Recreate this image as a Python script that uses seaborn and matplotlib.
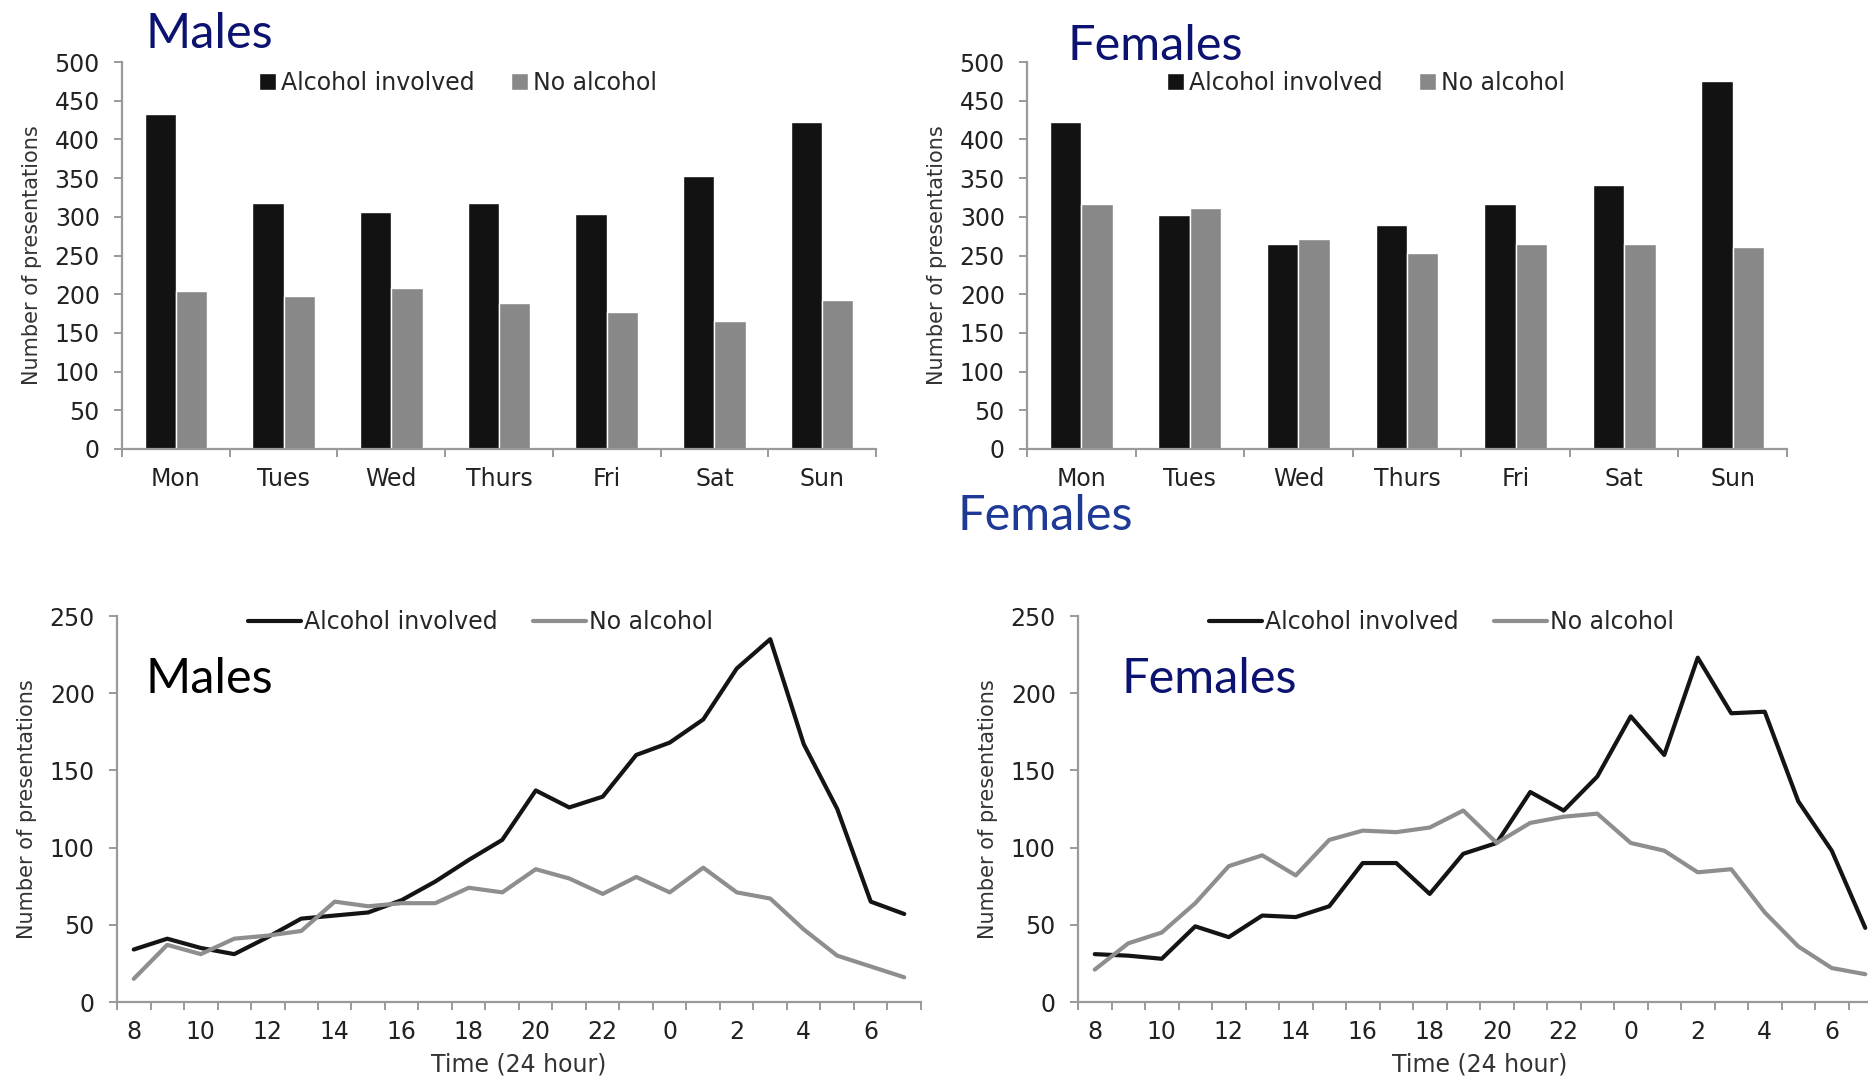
import numpy as np
import pandas as pd
import matplotlib
matplotlib.use("Agg")
import matplotlib.pyplot as plt
import seaborn as sns

# ---- data ----
days = ["Mon", "Tues", "Wed", "Thurs", "Fri", "Sat", "Sun"]
male_day_alc = [433, 318, 306, 318, 303, 353, 423]
male_day_no = [204, 198, 208, 188, 177, 166, 192]
female_day_alc = [423, 302, 265, 290, 317, 341, 475]
female_day_no = [317, 312, 271, 253, 265, 265, 261]

hours = [8, 9, 10, 11, 12, 13, 14, 15, 16, 17, 18, 19, 20, 21, 22, 23,
         0, 1, 2, 3, 4, 5, 6, 7]
male_hr_alc = [34, 41, 35, 31, 42, 54, 56, 58, 66, 78, 92, 105, 137, 126, 133, 160,
               168, 183, 216, 235, 167, 125, 65, 57]
male_hr_no = [15, 37, 31, 41, 43, 46, 65, 62, 64, 64, 74, 71, 86, 80, 70, 81,
              71, 87, 71, 67, 47, 30, 23, 16]
female_hr_alc = [31, 30, 28, 49, 42, 56, 55, 62, 90, 90, 70, 96, 103, 136, 124, 146,
                 185, 160, 223, 187, 188, 130, 98, 48]
female_hr_no = [21, 38, 45, 64, 88, 95, 82, 105, 111, 110, 113, 124, 103, 116, 120, 122,
                103, 98, 84, 86, 58, 36, 22, 18]

groups = ["Alcohol involved", "No alcohol"]

sns.set_style("ticks")
plt.rcParams["font.family"] = ["DejaVu Sans"]

W, H = 1868, 1077
fig = plt.figure(figsize=(W / 100, H / 100), dpi=100)


def box(x0, y0, x1, y1):
    # pixel box -> figure fraction
    return [x0 / W, 1 - y1 / H, (x1 - x0) / W, (y1 - y0) / H]


tick_col = "#222222"
spine_col = "#9a9a9a"
fs = 17


def style_axes(ax):
    sns.despine(ax=ax)
    for s in ["left", "bottom"]:
        ax.spines[s].set_color(spine_col)
        ax.spines[s].set_linewidth(1.6)
    ax.tick_params(axis="y", colors=spine_col, labelcolor=tick_col, labelsize=fs,
                   length=6, width=1.4, pad=10)
    ax.tick_params(axis="x", which="major", length=0, labelcolor=tick_col, labelsize=fs, pad=13)
    ax.tick_params(axis="x", which="minor", length=6, width=1.4, colors=spine_col, direction="out")
    ax.set_ylabel("Number of presentations", fontsize=15, color="#333333", labelpad=9)


def bar_panel(rect, alc, no):
    ax = fig.add_axes(rect)
    df = pd.DataFrame({
        "day": days * 2,
        "group": [groups[0]] * len(days) + [groups[1]] * len(days),
        "count": alc + no,
    })
    sns.barplot(data=df, x="day", y="count", hue="group", order=days, hue_order=groups,
                palette=["#121212", "#888888"], saturation=1, width=0.58, ax=ax)
    ax.set_ylim(0, 500)
    ax.set_yticks(np.arange(0, 501, 50))
    ax.set_xlim(-0.5, len(days) - 0.5)
    ax.set_xticks(np.arange(-0.5, len(days), 1.0), minor=True)
    ax.set_xlabel("")
    style_axes(ax)
    ax.legend(loc="center", bbox_to_anchor=(0.446, 0.946), ncol=2, frameon=False,
              fontsize=fs, handlelength=0.72, handleheight=0.72, handletextpad=0.2,
              columnspacing=1.55, borderaxespad=0)
    return ax


def line_panel(rect, alc, no):
    ax = fig.add_axes(rect)
    pos = np.arange(len(hours))
    df = pd.DataFrame({
        "pos": np.concatenate([pos, pos]),
        "group": [groups[0]] * len(hours) + [groups[1]] * len(hours),
        "count": alc + no,
    })
    sns.lineplot(data=df, x="pos", y="count", hue="group", hue_order=groups,
                 palette=["#141414", "#8e8e8e"], linewidth=3, ax=ax)
    ax.set_ylim(0, 250)
    ax.set_yticks(np.arange(0, 251, 50))
    ax.set_xlim(-0.5, len(hours) - 0.5)
    ax.set_xticks(pos[::2])
    ax.set_xticklabels([str(h) for h in hours[::2]])
    ax.set_xticks(np.arange(-0.5, len(hours), 1.0), minor=True)
    ax.set_xlabel("Time (24 hour)", fontsize=fs, color="#333333", labelpad=6)
    style_axes(ax)
    ax.legend(loc="center", bbox_to_anchor=(0.452, 0.984), ncol=2, frameon=False,
              fontsize=fs, handlelength=2.25, handletextpad=0.13, columnspacing=1.5,
              borderaxespad=0)
    return ax


bar_panel(box(122, 62, 876, 449), male_day_alc, male_day_no)
bar_panel(box(1027, 62, 1787, 449), female_day_alc, female_day_no)
line_panel(box(117, 616, 921, 1002), male_hr_alc, male_hr_no)
line_panel(box(1078, 616, 1882, 1002), female_hr_alc, female_hr_no)

title_font = ["Lato", "DejaVu Sans"]
navy = "#0c1270"
tfs = 35
fig.text(145 / W, 1 - 34 / H, "Males", fontsize=tfs, color=navy, family=title_font, va="center")
fig.text(1068 / W, 1 - 46 / H, "Females", fontsize=tfs, color=navy, family=title_font, va="center")
fig.text(958 / W, 1 - 516 / H, "Females", fontsize=tfs, color="#1e3a96", family=title_font, va="center")
fig.text(146 / W, 1 - 679 / H, "Males", fontsize=tfs, color="#000000", family=title_font, va="center")
fig.text(1122 / W, 1 - 679 / H, "Females", fontsize=tfs, color=navy, family=title_font, va="center")

fig.savefig("out.png", dpi=100, facecolor="white")
